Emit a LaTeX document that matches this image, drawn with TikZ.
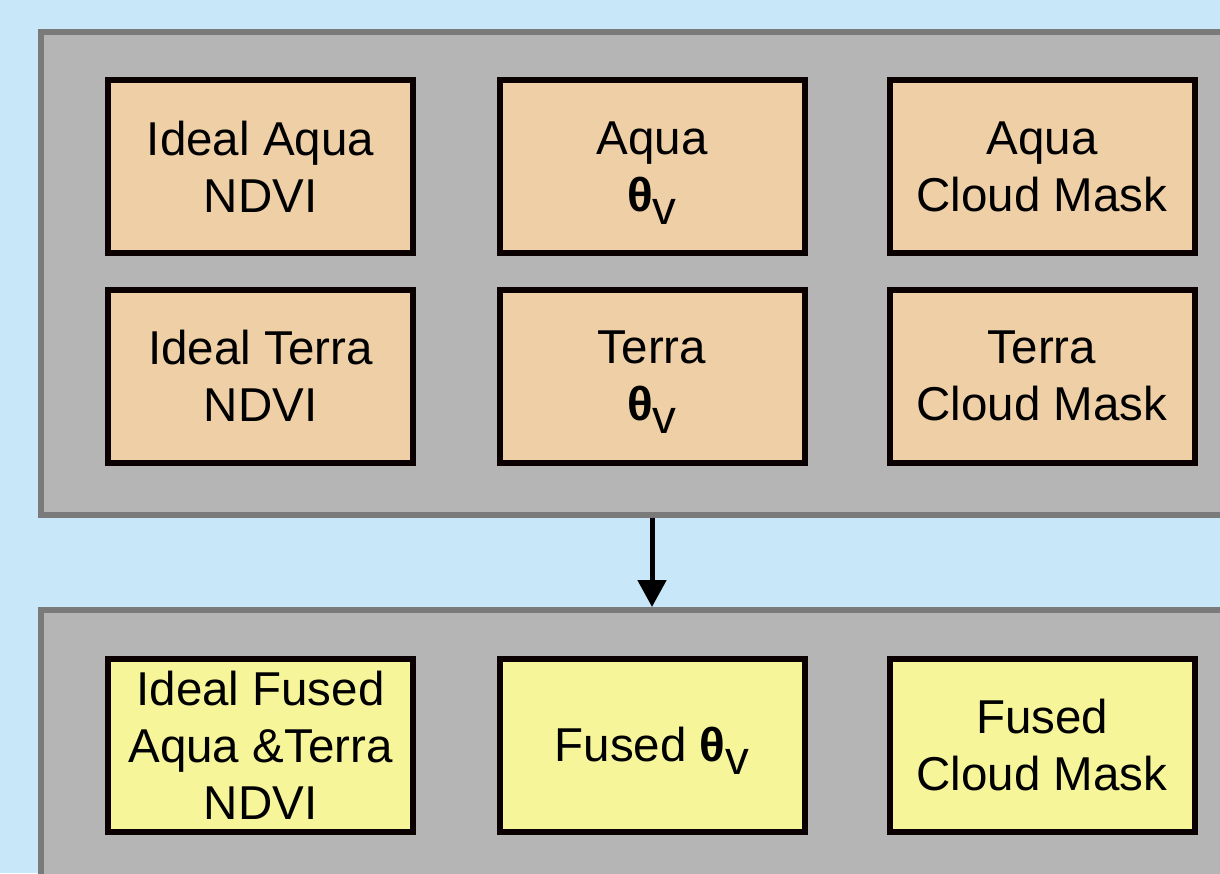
\documentclass[tikz,border=0pt]{standalone}
\usepackage{fontspec}
\setmainfont{Liberation Sans}
\usetikzlibrary{arrows.meta}
\definecolor{bgblue}{HTML}{C8E7F8}
\definecolor{panelgray}{HTML}{B5B5B5}
\definecolor{paneledge}{HTML}{7A7A7A}
\definecolor{tanfill}{HTML}{EECFA6}
\definecolor{yelfill}{HTML}{F7F59A}
\definecolor{boxedge}{HTML}{0A0000}
\newcommand{\thv}{{\bfseries θ}\smash{\raisebox{-13pt}{v}}}
\tikzset{
  panel/.style={draw=paneledge, fill=panelgray, line width=6pt, rectangle, inner sep=0pt},
  inbox/.style={draw=boxedge, line width=6pt, rectangle, minimum width=305pt, minimum height=173pt,
    inner sep=0pt, align=center, font=\fontsize{47.5}{57}\selectfont},
  inboxtan/.style={inbox, fill=tanfill},
  inboxyel/.style={inbox, fill=yelfill},
  flow/.style={line width=5pt, -{Triangle[width=28pt,length=27pt]}}
}
\begin{document}
\begin{tikzpicture}[x=1pt,y=-1pt]
\clip (0,0) rectangle (1220,873);
\fill[bgblue] (0,0) rectangle (1220,873);
% panels
\node[panel, minimum width=1240pt, minimum height=482.5pt, anchor=north west] (p1) at (38,29) {};
\node[panel, minimum width=1240pt, minimum height=300pt, anchor=north west] (p2) at (38,607) {};
% top panel boxes
\node[inboxtan] (a1) at (260.5,166.5) {Ideal Aqua\\NDVI};
\node[inboxtan] (a2) at (652,166.5) {Aqua\\\thv};
\node[inboxtan] (a3) at (1042,166.5) {Aqua\\Cloud Mask};
\node[inboxtan] (t1) at (260.5,376) {Ideal Terra\\NDVI};
\node[inboxtan] (t2) at (652,376) {Terra\\\thv};
\node[inboxtan] (t3) at (1042,376) {Terra\\Cloud Mask};
% bottom panel boxes
\node[inboxyel] (f1) at (260.5,745) {Ideal Fused\\Aqua \&Terra\\NDVI};
\node[inboxyel] (f2) at (652,745) {Fused \thv};
\node[inboxyel] (f3) at (1042,745) {Fused\\Cloud Mask};
% arrow
\draw[flow] (p1.south -| a2) -- (p2.north -| a2);
\end{tikzpicture}
\end{document}
